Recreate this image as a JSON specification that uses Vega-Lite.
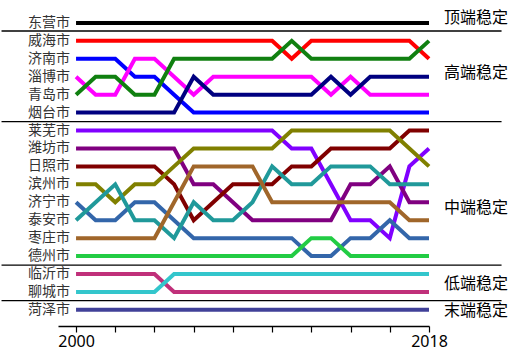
{
  "$schema": "https://vega.github.io/schema/vega-lite/v6.json",
  "autosize": {"type": "none"},
  "padding": {"left": 58, "top": 5, "right": 97, "bottom": 33},
  "width": 371,
  "height": 321,
  "config": {"view": {"stroke": null}},
  "datasets": {
    "ranks": [
      {"city":"东营市","year":2000,"rank":1},{"city":"东营市","year":2001,"rank":1},{"city":"东营市","year":2002,"rank":1},{"city":"东营市","year":2003,"rank":1},{"city":"东营市","year":2004,"rank":1},{"city":"东营市","year":2005,"rank":1},{"city":"东营市","year":2006,"rank":1},{"city":"东营市","year":2007,"rank":1},{"city":"东营市","year":2008,"rank":1},{"city":"东营市","year":2009,"rank":1},{"city":"东营市","year":2010,"rank":1},{"city":"东营市","year":2011,"rank":1},{"city":"东营市","year":2012,"rank":1},{"city":"东营市","year":2013,"rank":1},{"city":"东营市","year":2014,"rank":1},{"city":"东营市","year":2015,"rank":1},{"city":"东营市","year":2016,"rank":1},{"city":"东营市","year":2017,"rank":1},{"city":"东营市","year":2018,"rank":1},
      {"city":"威海市","year":2000,"rank":2},{"city":"威海市","year":2001,"rank":2},{"city":"威海市","year":2002,"rank":2},{"city":"威海市","year":2003,"rank":2},{"city":"威海市","year":2004,"rank":2},{"city":"威海市","year":2005,"rank":2},{"city":"威海市","year":2006,"rank":2},{"city":"威海市","year":2007,"rank":2},{"city":"威海市","year":2008,"rank":2},{"city":"威海市","year":2009,"rank":2},{"city":"威海市","year":2010,"rank":2},{"city":"威海市","year":2011,"rank":3},{"city":"威海市","year":2012,"rank":2},{"city":"威海市","year":2013,"rank":2},{"city":"威海市","year":2014,"rank":2},{"city":"威海市","year":2015,"rank":2},{"city":"威海市","year":2016,"rank":2},{"city":"威海市","year":2017,"rank":2},{"city":"威海市","year":2018,"rank":3},
      {"city":"济南市","year":2000,"rank":3},{"city":"济南市","year":2001,"rank":3},{"city":"济南市","year":2002,"rank":3},{"city":"济南市","year":2003,"rank":4},{"city":"济南市","year":2004,"rank":4},{"city":"济南市","year":2005,"rank":5},{"city":"济南市","year":2006,"rank":6},{"city":"济南市","year":2007,"rank":6},{"city":"济南市","year":2008,"rank":6},{"city":"济南市","year":2009,"rank":6},{"city":"济南市","year":2010,"rank":6},{"city":"济南市","year":2011,"rank":6},{"city":"济南市","year":2012,"rank":6},{"city":"济南市","year":2013,"rank":6},{"city":"济南市","year":2014,"rank":6},{"city":"济南市","year":2015,"rank":6},{"city":"济南市","year":2016,"rank":6},{"city":"济南市","year":2017,"rank":6},{"city":"济南市","year":2018,"rank":6},
      {"city":"淄博市","year":2000,"rank":4},{"city":"淄博市","year":2001,"rank":5},{"city":"淄博市","year":2002,"rank":5},{"city":"淄博市","year":2003,"rank":3},{"city":"淄博市","year":2004,"rank":3},{"city":"淄博市","year":2005,"rank":4},{"city":"淄博市","year":2006,"rank":5},{"city":"淄博市","year":2007,"rank":4},{"city":"淄博市","year":2008,"rank":4},{"city":"淄博市","year":2009,"rank":4},{"city":"淄博市","year":2010,"rank":4},{"city":"淄博市","year":2011,"rank":4},{"city":"淄博市","year":2012,"rank":4},{"city":"淄博市","year":2013,"rank":5},{"city":"淄博市","year":2014,"rank":4},{"city":"淄博市","year":2015,"rank":5},{"city":"淄博市","year":2016,"rank":5},{"city":"淄博市","year":2017,"rank":5},{"city":"淄博市","year":2018,"rank":5},
      {"city":"青岛市","year":2000,"rank":5},{"city":"青岛市","year":2001,"rank":4},{"city":"青岛市","year":2002,"rank":4},{"city":"青岛市","year":2003,"rank":5},{"city":"青岛市","year":2004,"rank":5},{"city":"青岛市","year":2005,"rank":3},{"city":"青岛市","year":2006,"rank":3},{"city":"青岛市","year":2007,"rank":3},{"city":"青岛市","year":2008,"rank":3},{"city":"青岛市","year":2009,"rank":3},{"city":"青岛市","year":2010,"rank":3},{"city":"青岛市","year":2011,"rank":2},{"city":"青岛市","year":2012,"rank":3},{"city":"青岛市","year":2013,"rank":3},{"city":"青岛市","year":2014,"rank":3},{"city":"青岛市","year":2015,"rank":3},{"city":"青岛市","year":2016,"rank":3},{"city":"青岛市","year":2017,"rank":3},{"city":"青岛市","year":2018,"rank":2},
      {"city":"烟台市","year":2000,"rank":6},{"city":"烟台市","year":2001,"rank":6},{"city":"烟台市","year":2002,"rank":6},{"city":"烟台市","year":2003,"rank":6},{"city":"烟台市","year":2004,"rank":6},{"city":"烟台市","year":2005,"rank":6},{"city":"烟台市","year":2006,"rank":4},{"city":"烟台市","year":2007,"rank":5},{"city":"烟台市","year":2008,"rank":5},{"city":"烟台市","year":2009,"rank":5},{"city":"烟台市","year":2010,"rank":5},{"city":"烟台市","year":2011,"rank":5},{"city":"烟台市","year":2012,"rank":5},{"city":"烟台市","year":2013,"rank":4},{"city":"烟台市","year":2014,"rank":5},{"city":"烟台市","year":2015,"rank":4},{"city":"烟台市","year":2016,"rank":4},{"city":"烟台市","year":2017,"rank":4},{"city":"烟台市","year":2018,"rank":4},
      {"city":"莱芜市","year":2000,"rank":7},{"city":"莱芜市","year":2001,"rank":7},{"city":"莱芜市","year":2002,"rank":7},{"city":"莱芜市","year":2003,"rank":7},{"city":"莱芜市","year":2004,"rank":7},{"city":"莱芜市","year":2005,"rank":7},{"city":"莱芜市","year":2006,"rank":7},{"city":"莱芜市","year":2007,"rank":7},{"city":"莱芜市","year":2008,"rank":7},{"city":"莱芜市","year":2009,"rank":7},{"city":"莱芜市","year":2010,"rank":7},{"city":"莱芜市","year":2011,"rank":8},{"city":"莱芜市","year":2012,"rank":8},{"city":"莱芜市","year":2013,"rank":10},{"city":"莱芜市","year":2014,"rank":12},{"city":"莱芜市","year":2015,"rank":12},{"city":"莱芜市","year":2016,"rank":13},{"city":"莱芜市","year":2017,"rank":9},{"city":"莱芜市","year":2018,"rank":8},
      {"city":"潍坊市","year":2000,"rank":8},{"city":"潍坊市","year":2001,"rank":8},{"city":"潍坊市","year":2002,"rank":8},{"city":"潍坊市","year":2003,"rank":8},{"city":"潍坊市","year":2004,"rank":8},{"city":"潍坊市","year":2005,"rank":8},{"city":"潍坊市","year":2006,"rank":10},{"city":"潍坊市","year":2007,"rank":10},{"city":"潍坊市","year":2008,"rank":11},{"city":"潍坊市","year":2009,"rank":12},{"city":"潍坊市","year":2010,"rank":12},{"city":"潍坊市","year":2011,"rank":12},{"city":"潍坊市","year":2012,"rank":12},{"city":"潍坊市","year":2013,"rank":12},{"city":"潍坊市","year":2014,"rank":10},{"city":"潍坊市","year":2015,"rank":10},{"city":"潍坊市","year":2016,"rank":9},{"city":"潍坊市","year":2017,"rank":11},{"city":"潍坊市","year":2018,"rank":11},
      {"city":"日照市","year":2000,"rank":9},{"city":"日照市","year":2001,"rank":9},{"city":"日照市","year":2002,"rank":9},{"city":"日照市","year":2003,"rank":9},{"city":"日照市","year":2004,"rank":9},{"city":"日照市","year":2005,"rank":10},{"city":"日照市","year":2006,"rank":12},{"city":"日照市","year":2007,"rank":11},{"city":"日照市","year":2008,"rank":10},{"city":"日照市","year":2009,"rank":10},{"city":"日照市","year":2010,"rank":10},{"city":"日照市","year":2011,"rank":9},{"city":"日照市","year":2012,"rank":9},{"city":"日照市","year":2013,"rank":8},{"city":"日照市","year":2014,"rank":8},{"city":"日照市","year":2015,"rank":8},{"city":"日照市","year":2016,"rank":8},{"city":"日照市","year":2017,"rank":7},{"city":"日照市","year":2018,"rank":7},
      {"city":"滨州市","year":2000,"rank":10},{"city":"滨州市","year":2001,"rank":10},{"city":"滨州市","year":2002,"rank":11},{"city":"滨州市","year":2003,"rank":10},{"city":"滨州市","year":2004,"rank":10},{"city":"滨州市","year":2005,"rank":9},{"city":"滨州市","year":2006,"rank":8},{"city":"滨州市","year":2007,"rank":8},{"city":"滨州市","year":2008,"rank":8},{"city":"滨州市","year":2009,"rank":8},{"city":"滨州市","year":2010,"rank":8},{"city":"滨州市","year":2011,"rank":7},{"city":"滨州市","year":2012,"rank":7},{"city":"滨州市","year":2013,"rank":7},{"city":"滨州市","year":2014,"rank":7},{"city":"滨州市","year":2015,"rank":7},{"city":"滨州市","year":2016,"rank":7},{"city":"滨州市","year":2017,"rank":8},{"city":"滨州市","year":2018,"rank":9},
      {"city":"济宁市","year":2000,"rank":11},{"city":"济宁市","year":2001,"rank":12},{"city":"济宁市","year":2002,"rank":12},{"city":"济宁市","year":2003,"rank":11},{"city":"济宁市","year":2004,"rank":11},{"city":"济宁市","year":2005,"rank":12},{"city":"济宁市","year":2006,"rank":13},{"city":"济宁市","year":2007,"rank":13},{"city":"济宁市","year":2008,"rank":13},{"city":"济宁市","year":2009,"rank":13},{"city":"济宁市","year":2010,"rank":13},{"city":"济宁市","year":2011,"rank":13},{"city":"济宁市","year":2012,"rank":14},{"city":"济宁市","year":2013,"rank":14},{"city":"济宁市","year":2014,"rank":13},{"city":"济宁市","year":2015,"rank":13},{"city":"济宁市","year":2016,"rank":12},{"city":"济宁市","year":2017,"rank":13},{"city":"济宁市","year":2018,"rank":13},
      {"city":"泰安市","year":2000,"rank":12},{"city":"泰安市","year":2001,"rank":11},{"city":"泰安市","year":2002,"rank":10},{"city":"泰安市","year":2003,"rank":12},{"city":"泰安市","year":2004,"rank":12},{"city":"泰安市","year":2005,"rank":13},{"city":"泰安市","year":2006,"rank":11},{"city":"泰安市","year":2007,"rank":12},{"city":"泰安市","year":2008,"rank":12},{"city":"泰安市","year":2009,"rank":11},{"city":"泰安市","year":2010,"rank":9},{"city":"泰安市","year":2011,"rank":10},{"city":"泰安市","year":2012,"rank":10},{"city":"泰安市","year":2013,"rank":9},{"city":"泰安市","year":2014,"rank":9},{"city":"泰安市","year":2015,"rank":9},{"city":"泰安市","year":2016,"rank":10},{"city":"泰安市","year":2017,"rank":10},{"city":"泰安市","year":2018,"rank":10},
      {"city":"枣庄市","year":2000,"rank":13},{"city":"枣庄市","year":2001,"rank":13},{"city":"枣庄市","year":2002,"rank":13},{"city":"枣庄市","year":2003,"rank":13},{"city":"枣庄市","year":2004,"rank":13},{"city":"枣庄市","year":2005,"rank":11},{"city":"枣庄市","year":2006,"rank":9},{"city":"枣庄市","year":2007,"rank":9},{"city":"枣庄市","year":2008,"rank":9},{"city":"枣庄市","year":2009,"rank":9},{"city":"枣庄市","year":2010,"rank":11},{"city":"枣庄市","year":2011,"rank":11},{"city":"枣庄市","year":2012,"rank":11},{"city":"枣庄市","year":2013,"rank":11},{"city":"枣庄市","year":2014,"rank":11},{"city":"枣庄市","year":2015,"rank":11},{"city":"枣庄市","year":2016,"rank":11},{"city":"枣庄市","year":2017,"rank":12},{"city":"枣庄市","year":2018,"rank":12},
      {"city":"德州市","year":2000,"rank":14},{"city":"德州市","year":2001,"rank":14},{"city":"德州市","year":2002,"rank":14},{"city":"德州市","year":2003,"rank":14},{"city":"德州市","year":2004,"rank":14},{"city":"德州市","year":2005,"rank":14},{"city":"德州市","year":2006,"rank":14},{"city":"德州市","year":2007,"rank":14},{"city":"德州市","year":2008,"rank":14},{"city":"德州市","year":2009,"rank":14},{"city":"德州市","year":2010,"rank":14},{"city":"德州市","year":2011,"rank":14},{"city":"德州市","year":2012,"rank":13},{"city":"德州市","year":2013,"rank":13},{"city":"德州市","year":2014,"rank":14},{"city":"德州市","year":2015,"rank":14},{"city":"德州市","year":2016,"rank":14},{"city":"德州市","year":2017,"rank":14},{"city":"德州市","year":2018,"rank":14},
      {"city":"临沂市","year":2000,"rank":15},{"city":"临沂市","year":2001,"rank":15},{"city":"临沂市","year":2002,"rank":15},{"city":"临沂市","year":2003,"rank":15},{"city":"临沂市","year":2004,"rank":15},{"city":"临沂市","year":2005,"rank":16},{"city":"临沂市","year":2006,"rank":16},{"city":"临沂市","year":2007,"rank":16},{"city":"临沂市","year":2008,"rank":16},{"city":"临沂市","year":2009,"rank":16},{"city":"临沂市","year":2010,"rank":16},{"city":"临沂市","year":2011,"rank":16},{"city":"临沂市","year":2012,"rank":16},{"city":"临沂市","year":2013,"rank":16},{"city":"临沂市","year":2014,"rank":16},{"city":"临沂市","year":2015,"rank":16},{"city":"临沂市","year":2016,"rank":16},{"city":"临沂市","year":2017,"rank":16},{"city":"临沂市","year":2018,"rank":16},
      {"city":"聊城市","year":2000,"rank":16},{"city":"聊城市","year":2001,"rank":16},{"city":"聊城市","year":2002,"rank":16},{"city":"聊城市","year":2003,"rank":16},{"city":"聊城市","year":2004,"rank":16},{"city":"聊城市","year":2005,"rank":15},{"city":"聊城市","year":2006,"rank":15},{"city":"聊城市","year":2007,"rank":15},{"city":"聊城市","year":2008,"rank":15},{"city":"聊城市","year":2009,"rank":15},{"city":"聊城市","year":2010,"rank":15},{"city":"聊城市","year":2011,"rank":15},{"city":"聊城市","year":2012,"rank":15},{"city":"聊城市","year":2013,"rank":15},{"city":"聊城市","year":2014,"rank":15},{"city":"聊城市","year":2015,"rank":15},{"city":"聊城市","year":2016,"rank":15},{"city":"聊城市","year":2017,"rank":15},{"city":"聊城市","year":2018,"rank":15},
      {"city":"菏泽市","year":2000,"rank":17},{"city":"菏泽市","year":2001,"rank":17},{"city":"菏泽市","year":2002,"rank":17},{"city":"菏泽市","year":2003,"rank":17},{"city":"菏泽市","year":2004,"rank":17},{"city":"菏泽市","year":2005,"rank":17},{"city":"菏泽市","year":2006,"rank":17},{"city":"菏泽市","year":2007,"rank":17},{"city":"菏泽市","year":2008,"rank":17},{"city":"菏泽市","year":2009,"rank":17},{"city":"菏泽市","year":2010,"rank":17},{"city":"菏泽市","year":2011,"rank":17},{"city":"菏泽市","year":2012,"rank":17},{"city":"菏泽市","year":2013,"rank":17},{"city":"菏泽市","year":2014,"rank":17},{"city":"菏泽市","year":2015,"rank":17},{"city":"菏泽市","year":2016,"rank":17},{"city":"菏泽市","year":2017,"rank":17},{"city":"菏泽市","year":2018,"rank":17}
    ],
    "groups": [
      {"group":"顶端稳定","pos":0.7},
      {"group":"高端稳定","pos":3.8},
      {"group":"中端稳定","pos":11.3},
      {"group":"低端稳定","pos":15.55},
      {"group":"末端稳定","pos":17.05}
    ],
    "separators": [
      {"pos":1.45},{"pos":6.5},{"pos":14.5},{"pos":16.48}
    ]
  },
  "layer": [
    {
      "data": {"name": "separators"},
      "mark": {"type": "rule", "color": "#000000", "strokeWidth": 1.3},
      "encoding": {
        "y": {"field": "pos", "type": "quantitative", "scale": {"domain": [0, 17.9], "reverse": true, "nice": false, "zero": false}, "axis": null},
        "x": {"datum": 1996.2, "type": "quantitative"},
        "x2": {"datum": 2021.7}
      }
    },
    {
      "data": {"name": "ranks"},
      "mark": {"type": "line", "strokeWidth": 4, "strokeJoin": "miter"},
      "encoding": {
        "x": {
          "field": "year", "type": "quantitative",
          "scale": {"domain": [1999.08, 2018], "nice": false, "zero": false},
          "axis": {
            "values": [2000,2001,2002,2003,2004,2005,2006,2007,2008,2009,2010,2011,2012,2013,2014,2015,2016,2017,2018],
            "labelExpr": "datum.value == 2000 || datum.value == 2018 ? datum.value : ''",
            "title": null, "grid": false,
            "tickSize": 6, "tickColor": "#000000", "tickWidth": 1.2,
            "domainColor": "#000000", "domainWidth": 1.5,
            "labelFont": "Noto Sans", "labelFontSize": 16, "labelColor": "#000000",
            "labelPadding": 1, "labelOverlap": false, "labelFlush": false
          }
        },
        "y": {"field": "rank", "type": "quantitative", "scale": {"domain": [0, 17.9], "reverse": true, "nice": false, "zero": false}, "axis": null},
        "detail": {"field": "city"},
        "color": {
          "field": "city", "type": "nominal", "legend": null,
          "scale": {
            "domain": ["东营市","威海市","济南市","淄博市","青岛市","烟台市","莱芜市","潍坊市","日照市","滨州市","济宁市","泰安市","枣庄市","德州市","临沂市","聊城市","菏泽市"],
            "range": ["#000000","#ff0000","#0000ff","#ff00ff","#108010","#000080","#8000ff","#800080","#800000","#808000","#3366aa","#20999a","#a0662a","#22cc44","#c0307a","#33c6cc","#404098"]
          }
        }
      }
    },
    {
      "data": {"name": "ranks"},
      "transform": [{"filter": "datum.year == 2000"}],
      "mark": {"type": "text", "align": "right", "baseline": "middle", "dx": -6, "font": "Noto Sans CJK SC", "fontSize": 14, "color": "#333333"},
      "encoding": {
        "x": {"field": "year", "type": "quantitative"},
        "y": {"field": "rank", "type": "quantitative"},
        "text": {"field": "city"}
      }
    },
    {
      "data": {"name": "groups"},
      "mark": {"type": "text", "align": "left", "baseline": "middle", "dx": 15, "font": "Noto Sans CJK SC", "fontSize": 16, "color": "#000000"},
      "encoding": {
        "x": {"datum": 2018, "type": "quantitative"},
        "y": {"field": "pos", "type": "quantitative"},
        "text": {"field": "group"}
      }
    }
  ]
}
